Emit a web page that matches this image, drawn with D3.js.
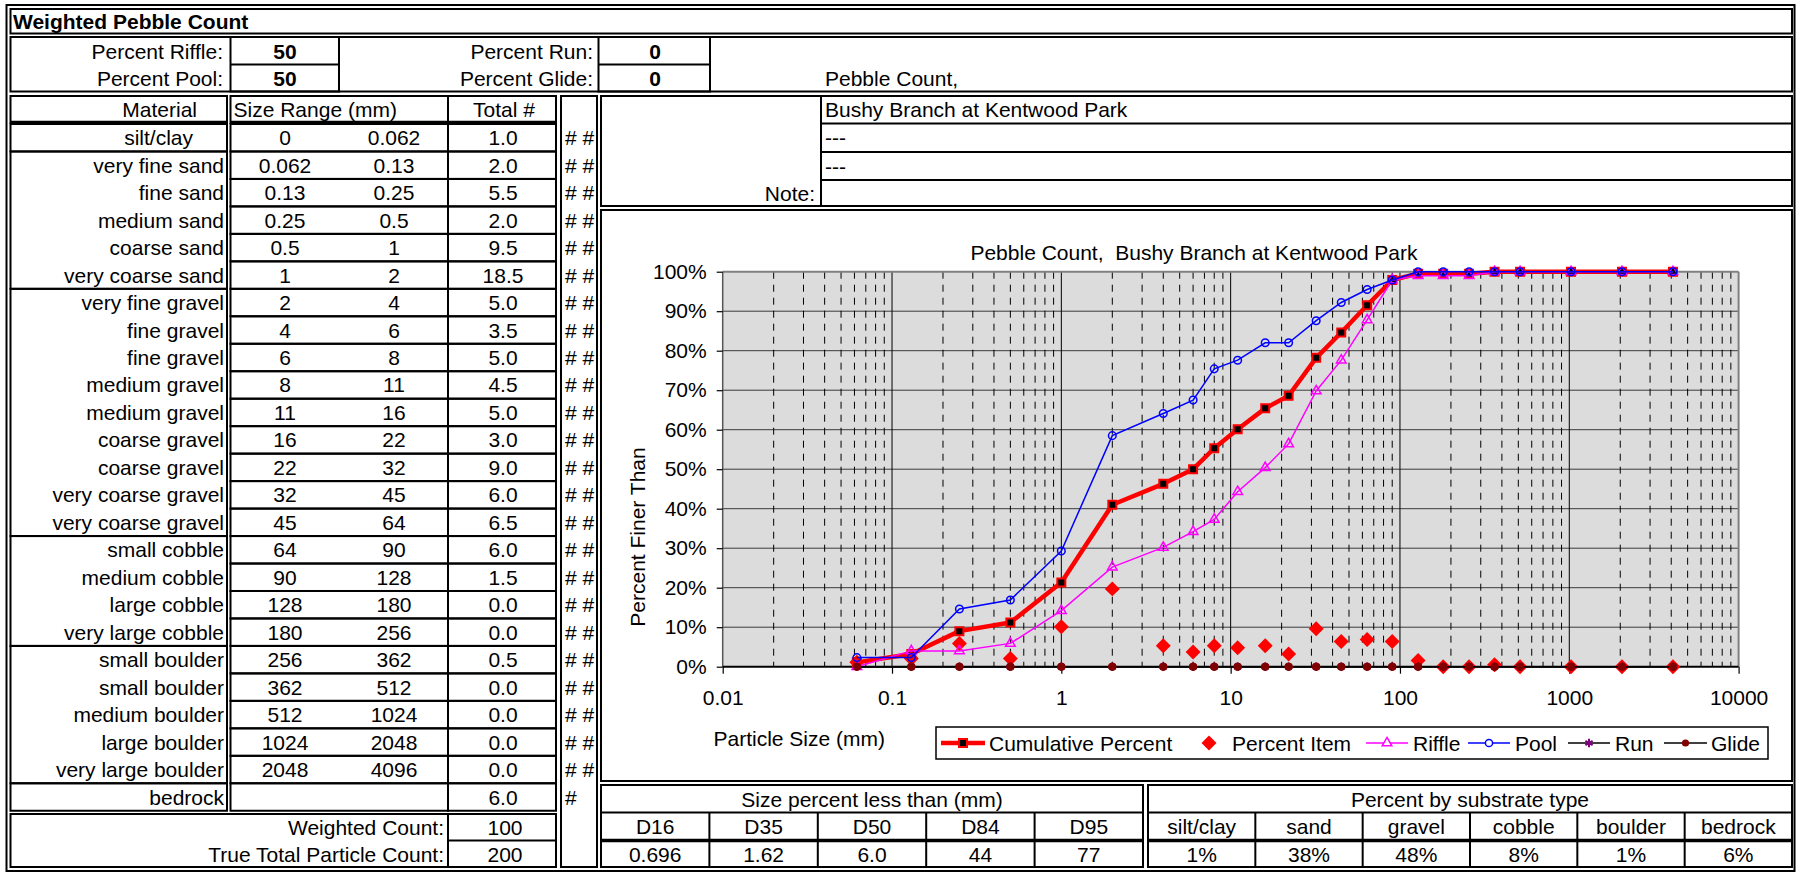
<!DOCTYPE html>
<html>
<head>
<meta charset="utf-8">
<script src="https://cdn.jsdelivr.net/npm/d3@7"></script>
<style>
body { margin: 0; background: #fff; }
text { font-family: "Liberation Sans", Arial, sans-serif; font-size: 21px; fill: #000; }
</style>
</head>
<body>
<script>
// sheet values
var materials = ["silt/clay", "very fine sand", "fine sand", "medium sand", "coarse sand", "very coarse sand",
    "very fine gravel", "fine gravel", "fine gravel", "medium gravel", "medium gravel", "coarse gravel",
    "coarse gravel", "very coarse gravel", "very coarse gravel", "small cobble", "medium cobble",
    "large cobble", "very large cobble", "small boulder", "small boulder", "medium boulder",
    "large boulder", "very large boulder", "bedrock"];
var sizeMin = ["0", "0.062", "0.13", "0.25", "0.5", "1", "2", "4", "6", "8", "11", "16", "22", "32", "45",
    "64", "90", "128", "180", "256", "362", "512", "1024", "2048", ""];
var sizeMax = ["0.062", "0.13", "0.25", "0.5", "1", "2", "4", "6", "8", "11", "16", "22", "32", "45", "64",
    "90", "128", "180", "256", "362", "512", "1024", "2048", "4096", ""];
var totals = [1.0, 2.0, 5.5, 2.0, 9.5, 18.5, 5.0, 3.5, 5.0, 4.5, 5.0, 3.0, 9.0, 6.0, 6.5, 6.0, 1.5, 0.0, 0.0,
    0.5, 0.0, 0.0, 0.0, 0.0, 6.0];
var groupRows = [1, 5, 9, 4, 5, 1];  // silt/clay, sand, gravel, cobble, boulder, bedrock

// chart series (x = upper size of each class, mm)
var particleSize = [0.062, 0.13, 0.25, 0.5, 1, 2, 4, 6, 8, 11, 16, 22, 32, 45, 64, 90, 128, 180, 256, 362,
    512, 1024, 2048, 4096];
var cumulativePct = [1.1, 3.2, 9.0, 11.2, 21.3, 41.0, 46.3, 50.0, 55.3, 60.1, 65.4, 68.6, 78.2, 84.6, 91.5,
    97.9, 99.5, 99.5, 99.5, 100, 100, 100, 100, 100];
var itemPct = [1.1, 2.1, 5.9, 2.1, 10.1, 19.7, 5.3, 3.7, 5.3, 4.8, 5.3, 3.2, 9.6, 6.4, 6.9, 6.4, 1.6, 0, 0,
    0.5, 0, 0, 0, 0];
var rifflePct = [0, 4.0, 4.0, 5.9, 14.2, 25.2, 30.2, 34.2, 37.3, 44.3, 50.4, 56.4, 69.8, 77.6, 87.8, 97.9,
    99.0, 99.0, 99.0, 100, 100, 100, 100, 100];
var poolPct = [2.3, 2.3, 14.6, 16.9, 29.3, 58.5, 64.1, 67.5, 75.4, 77.6, 82.0, 82.0, 87.6, 92.2, 95.5, 97.9,
    100, 100, 100, 100, 100, 100, 100, 100];
var runPct = [0, 0, 0, 0, 0, 0, 0, 0, 0, 0, 0, 0, 0, 0, 0, 0, 0, 0, 0, 0, 0, 0, 0, 0];
var glidePct = [0, 0, 0, 0, 0, 0, 0, 0, 0, 0, 0, 0, 0, 0, 0, 0, 0, 0, 0, 0, 0, 0, 0, 0];

var xTicks = [0.01, 0.1, 1, 10, 100, 1000, 10000];
var xTickLabels = ["0.01", "0.1", "1", "10", "100", "1000", "10000"];
var yTicks = [0, 10, 20, 30, 40, 50, 60, 70, 80, 90, 100];

var dLabels = ["D16", "D35", "D50", "D84", "D95"];
var dValues = ["0.696", "1.62", "6.0", "44", "77"];
var substrateLabels = ["silt/clay", "sand", "gravel", "cobble", "boulder", "bedrock"];
var substrateValues = ["1%", "38%", "48%", "8%", "1%", "6%"];

var svg = d3.select("body").append("svg")
    .attr("width", 1796)
    .attr("height", 872);

function box(x, y, w, h, sw) {
    svg.append("rect").attr("x", x).attr("y", y).attr("width", w).attr("height", h)
        .attr("fill", "none").attr("stroke", "#000").attr("stroke-width", sw || 2);
}
function hline(x1, x2, y, sw) {
    svg.append("line").attr("x1", x1).attr("x2", x2).attr("y1", y).attr("y2", y)
        .attr("stroke", "#000").attr("stroke-width", sw || 2);
}
function vline(x, y1, y2, sw) {
    svg.append("line").attr("x1", x).attr("x2", x).attr("y1", y1).attr("y2", y2)
        .attr("stroke", "#000").attr("stroke-width", sw || 2);
}
// cy is the vertical centre of the cell
function label(x, cy, str, anchor, bold) {
    return svg.append("text").attr("x", x).attr("y", cy + 7.5)
        .attr("text-anchor", anchor || "start")
        .attr("font-weight", bold ? "bold" : null)
        .style("white-space", "pre")
        .text(str);
}

// outer frame and top rows
box(6.5, 5, 1788, 866);
box(10.5, 9, 1781.5, 24.5);
label(13, 21, "Weighted Pebble Count", "start", true);
box(10.5, 37, 1781.5, 54.5);
box(230.5, 37, 108.5, 54.5);
hline(230.5, 339, 64.5);
box(598.5, 37, 111.5, 54.5);
hline(598.5, 710, 64.5);
label(223, 51, "Percent Riffle:", "end");
label(223, 78, "Percent Pool:", "end");
label(285, 51, "50", "middle", true);
label(285, 78, "50", "middle", true);
label(593, 51, "Percent Run:", "end");
label(593, 78, "Percent Glide:", "end");
label(655, 51, "0", "middle", true);
label(655, 78, "0", "middle", true);
label(825, 78, "Pebble Count,");

// material table
var rowTop = 124, rowH = 27.47;
box(10.5, 96, 216.5, 27);
box(230.5, 96, 217.5, 27);
box(448, 96, 108, 27);
hline(10.5, 227, 122.5, 3.5);
hline(230.5, 556, 122.5, 3.5);
label(197, 109, "Material", "end");
label(233.5, 109, "Size Range (mm)");
label(504, 109, "Total #", "middle");

var r0 = 0;
groupRows.forEach(function(n) {
    box(10.5, rowTop + r0 * rowH, 216.5, n * rowH);
    r0 += n;
});

materials.forEach(function(m, i) {
    var top = rowTop + i * rowH, cy = top + rowH / 2;
    box(230.5, top, 217.5, rowH);
    box(448, top, 108, rowH);
    label(i === 0 ? 193 : 224, cy, m, "end");
    label(285, cy, sizeMin[i], "middle");
    label(394, cy, sizeMax[i], "middle");
    label(503, cy, totals[i].toFixed(1), "middle");
    label(565, cy, i < materials.length - 1 ? "# #" : "#");
});

// hash column
box(561, 96, 36, 771);

// counts
box(10.5, 814, 545.5, 53);
vline(448, 814, 867);
hline(448, 556, 840.5);
label(444, 827, "Weighted Count:", "end");
label(444, 854, "True Total Particle Count:", "end");
label(505, 827, "100", "middle");
label(505, 854, "200", "middle");

// site info block
box(601, 96, 1191, 110);
vline(821, 96, 206);
hline(821, 1792, 123.5);
hline(821, 1792, 152);
hline(821, 1792, 180);
label(825, 109.5, "Bushy Branch at Kentwood Park");
label(825, 137.5, "---");
label(825, 166, "---");
label(815, 193, "Note:", "end");

// chart frame
box(601, 210, 1191, 571);

// bottom summary tables
function summaryTable(x0, x1, title, labels, values) {
    var colW = (x1 - x0) / labels.length;
    box(x0, 785, x1 - x0, 82);
    hline(x0, x1, 812.5);
    hline(x0, x1, 840.5, 3.5);
    label((x0 + x1) / 2, 799, title, "middle");
    labels.forEach(function(t, i) {
        if (i > 0) { vline(x0 + i * colW, 812.5, 867); }
        label(x0 + (i + 0.5) * colW, 826.5, t, "middle");
        label(x0 + (i + 0.5) * colW, 854, values[i], "middle");
    });
}
summaryTable(601, 1143, "Size percent less than (mm)", dLabels, dValues);
summaryTable(1148, 1792, "Percent by substrate type", substrateLabels, substrateValues);

// ---- the chart ----
var x = d3.scaleLog().domain([0.01, 10000]).range([722.7, 1738.6]);
var y = d3.scaleLinear().domain([0, 100]).range([666.7, 271.7]);

var chart = svg.append("g");

chart.append("rect")
    .attr("x", x(0.01)).attr("y", y(100))
    .attr("width", x(10000) - x(0.01)).attr("height", y(0) - y(100))
    .attr("fill", "#dcdcdc");

// horizontal gridlines
chart.selectAll(".hgrid")
    .data(yTicks.filter(function(d) { return d > 0 && d < 100; }))
    .enter().append("line")
    .attr("x1", x(0.01)).attr("x2", x(10000))
    .attr("y1", function(d) { return y(d); }).attr("y2", function(d) { return y(d); })
    .attr("stroke", "#3a3a3a").attr("stroke-width", 1);

// vertical gridlines: dashed minor, solid at decades
var logTicks = x.ticks().filter(function(d) { return d > 0.01 && d < 10000; });
chart.selectAll(".vgrid")
    .data(logTicks)
    .enter().append("line")
    .attr("x1", function(d) { return x(d); }).attr("x2", function(d) { return x(d); })
    .attr("y1", y(100)).attr("y2", y(0))
    .attr("stroke", "#000").attr("stroke-width", 1)
    .attr("stroke-dasharray", function(d) {
        return xTicks.indexOf(d) >= 0 ? null : "7,6";
    });

// plot border
chart.append("line").attr("x1", x(0.01)).attr("x2", x(10000)).attr("y1", y(100)).attr("y2", y(100))
    .attr("stroke", "#808080").attr("stroke-width", 2);
chart.append("line").attr("x1", x(10000)).attr("x2", x(10000)).attr("y1", y(100)).attr("y2", y(0))
    .attr("stroke", "#808080").attr("stroke-width", 2);
chart.append("line").attr("x1", x(0.01)).attr("x2", x(0.01)).attr("y1", y(100)).attr("y2", y(0))
    .attr("stroke", "#555").attr("stroke-width", 1.5);
chart.append("line").attr("x1", x(0.01)).attr("x2", x(10000)).attr("y1", y(0)).attr("y2", y(0))
    .attr("stroke", "#000").attr("stroke-width", 2);

// axes
var yAxis = chart.append("g")
    .attr("transform", "translate(" + x(0.01) + ",0)")
    .call(d3.axisLeft(y).tickValues(yTicks).tickSize(6).tickPadding(10)
        .tickFormat(function(d) { return d + "%"; }));
var xAxis = chart.append("g")
    .attr("transform", "translate(0," + y(0) + ")")
    .call(d3.axisBottom(x).tickValues(xTicks).tickSize(7).tickPadding(16)
        .tickFormat(function(d, i) { return xTickLabels[i]; }));
[yAxis, xAxis].forEach(function(a) {
    a.attr("font-size", null).attr("font-family", null);
    a.select(".domain").remove();
    a.selectAll(".tick line").attr("stroke", "#000").attr("stroke-width", 1.2);
});

// titles
chart.append("text").attr("x", 1194).attr("y", 259.5).attr("text-anchor", "middle")
    .style("white-space", "pre")
    .text("Pebble Count,  Bushy Branch at Kentwood Park");
chart.append("text").attr("x", 713.5).attr("y", 745.5).text("Particle Size (mm)");
chart.append("text").attr("transform", "translate(645,537) rotate(-90)")
    .attr("text-anchor", "middle").text("Percent Finer Than");

// series
function pts(values) { return d3.zip(particleSize, values); }
var line = d3.line()
    .x(function(d) { return x(d[0]); })
    .y(function(d) { return y(d[1]); });

var squareSym = d3.symbol(d3.symbolSquare, 64);
var diamondSym = d3.symbol(d3.symbolSquare, 112);
var triSym = d3.symbol(d3.symbolTriangle, 40);
var starSym = d3.symbol(d3.symbolAsterisk, 48);

// cumulative percent
chart.append("path").datum(pts(cumulativePct))
    .attr("fill", "none").attr("stroke", "#ff0000").attr("stroke-width", 4.5)
    .attr("stroke-linejoin", "round").attr("d", line);
chart.selectAll(".cum").data(pts(cumulativePct)).enter().append("path")
    .attr("transform", function(d) { return "translate(" + x(d[0]) + "," + y(d[1]) + ")"; })
    .attr("d", squareSym).attr("fill", "#000").attr("stroke", "#ff0000").attr("stroke-width", 2);

// percent item (markers only)
chart.selectAll(".item").data(pts(itemPct)).enter().append("path")
    .attr("transform", function(d) { return "translate(" + x(d[0]) + "," + y(d[1]) + ") rotate(45)"; })
    .attr("d", diamondSym).attr("fill", "#ff0000");

// riffle
chart.append("path").datum(pts(rifflePct))
    .attr("fill", "none").attr("stroke", "#ff00ff").attr("stroke-width", 1.5).attr("d", line);
chart.selectAll(".rif").data(pts(rifflePct)).enter().append("path")
    .attr("transform", function(d) { return "translate(" + x(d[0]) + "," + y(d[1]) + ")"; })
    .attr("d", triSym).attr("fill", "none").attr("stroke", "#ff00ff").attr("stroke-width", 1.5);

// pool
chart.append("path").datum(pts(poolPct))
    .attr("fill", "none").attr("stroke", "#0000ff").attr("stroke-width", 1.5).attr("d", line);
chart.selectAll(".pool").data(pts(poolPct)).enter().append("circle")
    .attr("cx", function(d) { return x(d[0]); }).attr("cy", function(d) { return y(d[1]); })
    .attr("r", 3.8).attr("fill", "none").attr("stroke", "#0000ff").attr("stroke-width", 1.5);

// run
chart.append("path").datum(pts(runPct))
    .attr("fill", "none").attr("stroke", "#000").attr("stroke-width", 1.5).attr("d", line);
chart.selectAll(".run").data(pts(runPct)).enter().append("path")
    .attr("transform", function(d) { return "translate(" + x(d[0]) + "," + y(d[1]) + ")"; })
    .attr("d", starSym).attr("fill", "none").attr("stroke", "#800080").attr("stroke-width", 2);

// glide
chart.append("path").datum(pts(glidePct))
    .attr("fill", "none").attr("stroke", "#000").attr("stroke-width", 1.5).attr("d", line);
chart.selectAll(".glide").data(pts(glidePct)).enter().append("circle")
    .attr("cx", function(d) { return x(d[0]); }).attr("cy", function(d) { return y(d[1]); })
    .attr("r", 3.8).attr("fill", "#800000").attr("stroke", "#800000").attr("stroke-width", 1);

// legend
var legend = chart.append("g");
legend.append("rect").attr("x", 936).attr("y", 727).attr("width", 832).attr("height", 32)
    .attr("fill", "#fff").attr("stroke", "#000").attr("stroke-width", 1.5);
var ly = 743;
var legendItems = [
    { name: "Cumulative Percent", x0: 941, x1: 985, tx: 989, stroke: "#ff0000", sw: 4.5, mark: "cum" },
    { name: "Percent Item", x0: 1209, x1: 1209, tx: 1232, stroke: null, mark: "item" },
    { name: "Riffle", x0: 1366, x1: 1408, tx: 1413, stroke: "#ff00ff", sw: 1.5, mark: "rif" },
    { name: "Pool", x0: 1468, x1: 1510, tx: 1515, stroke: "#0000ff", sw: 1.5, mark: "pool" },
    { name: "Run", x0: 1568, x1: 1610, tx: 1615, stroke: "#000", sw: 1.5, mark: "run" },
    { name: "Glide", x0: 1664, x1: 1707, tx: 1711, stroke: "#000", sw: 1.5, mark: "glide" }
];
legendItems.forEach(function(it) {
    var cx = (it.x0 + it.x1) / 2;
    if (it.stroke) {
        legend.append("line").attr("x1", it.x0).attr("x2", it.x1).attr("y1", ly).attr("y2", ly)
            .attr("stroke", it.stroke).attr("stroke-width", it.sw);
    }
    var t = "translate(" + cx + "," + ly + ")";
    if (it.mark === "cum") {
        legend.append("path").attr("transform", t).attr("d", squareSym)
            .attr("fill", "#000").attr("stroke", "#ff0000").attr("stroke-width", 2);
    } else if (it.mark === "item") {
        legend.append("path").attr("transform", t + " rotate(45)").attr("d", diamondSym).attr("fill", "#ff0000");
    } else if (it.mark === "rif") {
        legend.append("path").attr("transform", t).attr("d", triSym)
            .attr("fill", "#fff").attr("stroke", "#ff00ff").attr("stroke-width", 1.5);
    } else if (it.mark === "pool") {
        legend.append("circle").attr("cx", cx).attr("cy", ly).attr("r", 3.6)
            .attr("fill", "#fff").attr("stroke", "#0000ff").attr("stroke-width", 1.5);
    } else if (it.mark === "run") {
        legend.append("path").attr("transform", t).attr("d", starSym)
            .attr("fill", "none").attr("stroke", "#800080").attr("stroke-width", 2);
    } else {
        legend.append("circle").attr("cx", cx).attr("cy", ly).attr("r", 3.6).attr("fill", "#800000");
    }
    legend.append("text").attr("x", it.tx).attr("y", ly + 7.5).text(it.name);
});
</script>
</body>
</html>
